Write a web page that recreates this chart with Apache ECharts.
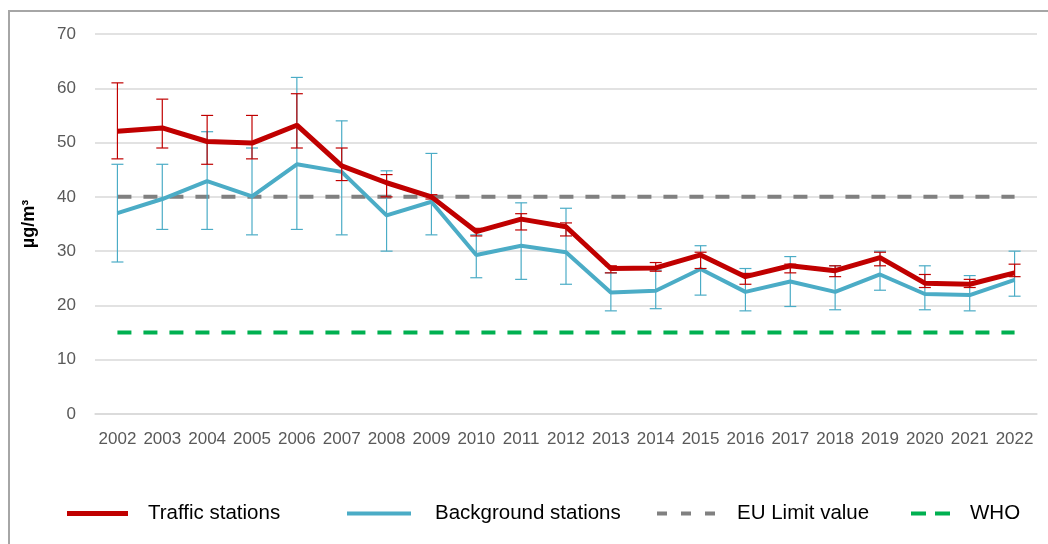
<!DOCTYPE html>
<html>
<head>
<meta charset="utf-8">
<script src="https://cdn.jsdelivr.net/npm/echarts@6/dist/echarts.min.js"></script>
<style>
  html, body { margin: 0; padding: 0; background: #ffffff; }
  #chart { width: 1048px; height: 544px; }
</style>
</head>
<body>
<div id="chart"></div>
<script>
// Annual mean NO2 concentrations (µg/m³) with station spread
const years = ['2002', '2003', '2004', '2005', '2006', '2007', '2008', '2009', '2010', '2011', '2012',
  '2013', '2014', '2015', '2016', '2017', '2018', '2019', '2020', '2021', '2022'];

const trafficMean = [52.1, 52.7, 50.2, 49.9, 53.2, 45.7, 42.6, 40.0, 33.6, 35.9, 34.5,
  26.8, 26.9, 29.3, 25.3, 27.3, 26.4, 28.8, 24.1, 23.9, 26.0];
const trafficLow = [47, 49, 46, 47, 49, 43, 40, 39.6, 32.8, 33.9, 32.8,
  26.0, 26.3, 26.8, 23.9, 26.0, 25.3, 27.3, 23.3, 23.3, 25.3];
const trafficHigh = [61, 58, 55, 55, 59, 49, 44.1, 40.4, 34.2, 36.9, 35.2,
  27.3, 27.9, 29.8, 25.9, 27.6, 27.3, 29.8, 25.7, 24.8, 27.6];

const backgroundMean = [37.0, 39.6, 42.9, 40.1, 46.0, 44.6, 36.6, 39.1, 29.3, 31.0, 29.8,
  22.4, 22.7, 26.7, 22.5, 24.4, 22.5, 25.7, 22.1, 21.9, 24.7];
const backgroundLow = [28, 34, 34, 33, 34, 33, 30, 33, 25.1, 24.8, 23.9,
  19.0, 19.4, 21.9, 19.0, 19.8, 19.2, 22.8, 19.2, 19.0, 21.7];
const backgroundHigh = [46, 46, 52, 49, 62, 54, 44.8, 48, 33, 38.9, 37.9,
  26.0, 26.5, 31.0, 26.8, 29.0, 27.3, 30.0, 27.3, 25.5, 30.0];

const euLimit = 40;
const whoGuideline = 15;

const yTicks = { min: 0, max: 70, interval: 10 };

const RED = '#C00000';
const BLUE = '#4BACC6';
const GREY = '#808080';
const GREEN = '#00B050';

// Vertical whisker with caps at both ends
function errorBarRenderer(color) {
  return function (params, api) {
    const x = api.value(0);
    const lo = api.coord([x, api.value(1)]);
    const hi = api.coord([x, api.value(2)]);
    const half = 6;
    const style = { stroke: color, lineWidth: 1.2 };
    return {
      type: 'group',
      children: [
        { type: 'line', shape: { x1: lo[0], y1: lo[1], x2: hi[0], y2: hi[1] }, style },
        { type: 'line', shape: { x1: lo[0] - half, y1: lo[1], x2: lo[0] + half, y2: lo[1] }, style },
        { type: 'line', shape: { x1: hi[0] - half, y1: hi[1], x2: hi[0] + half, y2: hi[1] }, style }
      ]
    };
  };
}

const trafficBars = years.map((y, i) => [i, trafficLow[i], trafficHigh[i]]);
const backgroundBars = years.map((y, i) => [i, backgroundLow[i], backgroundHigh[i]]);
const first = years[0];
const last = years[years.length - 1];

const legendText = { color: '#000000', fontSize: 20.5, fontFamily: 'Liberation Sans, Arial, sans-serif' };

// One legend per key so each can sit at its own horizontal position
function legendItem(name, left, width, height, gap, icon) {
  return {
    data: [{ name: name, icon: icon }],
    left: left,
    top: 503,
    height: 24,
    itemWidth: width,
    itemHeight: height,
    padding: 0,
    selectedMode: false,
    textStyle: Object.assign({ padding: [0, 0, 0, gap] }, legendText)
  };
}

const chart = echarts.init(document.getElementById('chart'), null, { renderer: 'canvas' });

chart.setOption({
  animation: false,
  backgroundColor: '#ffffff',
  textStyle: { fontFamily: 'Liberation Sans, Arial, sans-serif' },
  graphic: [{
    type: 'rect',
    silent: true,
    z: -10,
    shape: { x: 9, y: 11, width: 1200, height: 700 },
    style: { fill: 'none', stroke: '#a6a6a6', lineWidth: 2 }
  }],
  grid: { left: 95, right: 11, top: 34, bottom: 130 },
  legend: [
    legendItem('Traffic stations', 67, 61, 5, 15, 'path://M0,0H61V5H0Z'),
    legendItem('Background stations', 347, 64, 4, 19, 'path://M0,0H64V4H0Z'),
    legendItem('EU Limit value', 657, 58, 4, 17,
      'path://M0,0H10V4H0Z M24,0H34V4H24Z M48,0H58V4H48Z'),
    legendItem('WHO', 911, 39, 4, 15, 'path://M0,0H15V4H0Z M24,0H39V4H24Z')
  ],
  xAxis: {
    type: 'category',
    data: years,
    boundaryGap: true,
    axisLine: { show: true, lineStyle: { color: '#d9d9d9', width: 1.5 } },
    axisTick: { show: false },
    axisLabel: { color: '#595959', fontSize: 17, margin: 17, interval: 0 }
  },
  yAxis: {
    type: 'value',
    min: yTicks.min,
    max: yTicks.max,
    interval: yTicks.interval,
    name: 'µg/m³',
    nameLocation: 'middle',
    nameGap: 57,
    nameTextStyle: { color: '#000000', fontSize: 18, fontWeight: 'bold' },
    axisLine: { show: false },
    axisTick: { show: false },
    axisLabel: { color: '#595959', fontSize: 17, margin: 19 },
    splitLine: { lineStyle: { color: '#d9d9d9', width: 1.5 } }
  },
  series: [
    {
      name: 'WHO',
      type: 'line',
      symbol: 'none',
      z: 1,
      data: [[first, whoGuideline], [last, whoGuideline]],
      lineStyle: { color: GREEN, width: 4, type: [14, 12] },
      itemStyle: { color: GREEN }
    },
    {
      name: 'EU Limit value',
      type: 'line',
      symbol: 'none',
      z: 1,
      data: [[first, euLimit], [last, euLimit]],
      lineStyle: { color: GREY, width: 4, type: [14, 12] },
      itemStyle: { color: GREY }
    },
    {
      name: 'Background error',
      type: 'custom',
      z: 2,
      renderItem: errorBarRenderer(BLUE),
      encode: { x: 0, y: [1, 2] },
      data: backgroundBars
    },
    {
      name: 'Background stations',
      type: 'line',
      symbol: 'none',
      z: 3,
      data: backgroundMean,
      lineStyle: { color: BLUE, width: 4 },
      itemStyle: { color: BLUE }
    },
    {
      name: 'Traffic error',
      type: 'custom',
      z: 4,
      renderItem: errorBarRenderer(RED),
      encode: { x: 0, y: [1, 2] },
      data: trafficBars
    },
    {
      name: 'Traffic stations',
      type: 'line',
      symbol: 'none',
      z: 5,
      data: trafficMean,
      lineStyle: { color: RED, width: 5 },
      itemStyle: { color: RED }
    }
  ]
});
</script>
</body>
</html>
